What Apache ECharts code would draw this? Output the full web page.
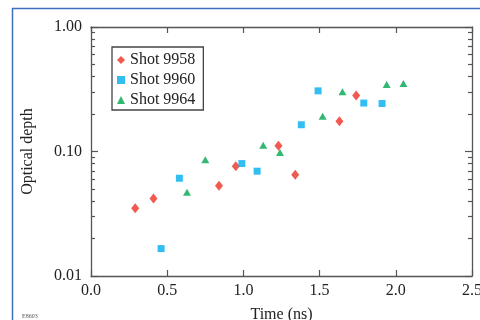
<!DOCTYPE html>
<html>
<head>
<meta charset="utf-8">
<script src="https://cdn.jsdelivr.net/npm/echarts@6/dist/echarts.min.js"></script>
<style>html,body{margin:0;padding:0;background:#fff;}#c{width:480px;height:320px;}</style>
</head>
<body>
<div id="c"></div>
<script>
// ---- data ----
var shot9958Time  = [0.29, 0.41, 0.84, 0.95, 1.23, 1.34, 1.63, 1.74];
var shot9958Depth = [0.035, 0.042, 0.053, 0.076, 0.111, 0.065, 0.175, 0.282];
var shot9960Time  = [0.46, 0.58, 0.99, 1.09, 1.38, 1.49, 1.79, 1.91];
var shot9960Depth = [0.0166, 0.061, 0.080, 0.0695, 0.164, 0.307, 0.245, 0.243];
var shot9964Time  = [0.63, 0.75, 1.13, 1.24, 1.52, 1.65, 1.94, 2.05];
var shot9964Depth = [0.047, 0.086, 0.112, 0.098, 0.192, 0.302, 0.345, 0.352];
var seriesNames = ['Shot 9958', 'Shot 9960', 'Shot 9964'];
var xTicks = [0, 0.5, 1.0, 1.5, 2.0, 2.5];
var yMajorTicks = [0.01, 0.1, 1];
var yMinorTicks = [0.02,0.03,0.04,0.05,0.06,0.07,0.08,0.09,0.2,0.3,0.4,0.5,0.6,0.7,0.8,0.9];

function pairs(xs, ys){ return xs.map(function(x,i){ return [x, ys[i]]; }); }

var FONT = '"Liberation Serif", "Times New Roman", serif';
var AX = '#555';
var TXT = '#222';

var chart = echarts.init(document.getElementById('c'), null, {renderer:'canvas'});

function yAxisDef(pos, ticks, len, showLine, showLabel){
  return {
    type:'log', logBase:10, min:0.01, max:1, position:pos,
    axisLine:{show:showLine, lineStyle:{color:AX, width:1.3}},
    axisTick:{show:true, inside:true, length:len, customValues:ticks, lineStyle:{color:AX, width:1.2}},
    axisLabel:{show:showLabel, customValues: showLabel ? yMajorTicks : undefined,
      formatter:function(v){ return Number(v).toFixed(2); },
      color:TXT, fontFamily:FONT, fontSize:16, margin:9},
    splitLine:{show:false}
  };
}

chart.setOption({
  animation:false,
  backgroundColor:'#fff',
  grid:{left:91, top:27, right:8, bottom:44, outerBoundsMode:'none'},
  graphic:[
    {type:'rect', shape:{x:12.5, y:8.5, width:600, height:400},
     style:{fill:'none', stroke:'#3d6fc1', lineWidth:1.5}, silent:true, z:0},
    {type:'text', left:22, top:313, style:{text:'E8603', fill:'#555', font:'6px ' + FONT}}
  ],
  legend:{
    orient:'vertical', left:112, top:47,
    data:[{name:seriesNames[0], icon:'diamond'},{name:seriesNames[1], icon:'rect'},{name:seriesNames[2], icon:'triangle'}],
    itemWidth:8, itemHeight:8, itemGap:4,
    padding:[5,8,2,5],
    borderColor:'#444', borderWidth:1.3, backgroundColor:'#fff',
    textStyle:{fontFamily:FONT, fontSize:16, color:TXT}
  },
  xAxis:[
    {type:'value', min:0, max:2.5, interval:0.5, position:'bottom',
     name:'Time (ns)', nameLocation:'middle', nameGap:31,
     nameTextStyle:{fontFamily:FONT, fontSize:16, color:TXT},
     axisLine:{lineStyle:{color:AX, width:1.3}},
     axisTick:{inside:true, length:6, lineStyle:{color:AX, width:1.2}},
     axisLabel:{formatter:function(v){return v.toFixed(1);}, color:TXT, fontFamily:FONT, fontSize:16, margin:7},
     splitLine:{show:false}},
    {type:'value', min:0, max:2.5, interval:0.5, position:'top',
     axisLine:{lineStyle:{color:AX, width:1.3}},
     axisTick:{inside:true, length:6, lineStyle:{color:AX, width:1.2}},
     axisLabel:{show:false}, splitLine:{show:false}}
  ],
  yAxis:[
    Object.assign(yAxisDef('left', yMajorTicks, 7, true, true), {
      name:'Optical depth', nameLocation:'middle', nameGap:55, nameRotate:90,
      nameTextStyle:{fontFamily:FONT, fontSize:16, color:TXT}}),
    yAxisDef('left', yMinorTicks, 4, false, false),
    yAxisDef('right', yMajorTicks, 7, true, false),
    yAxisDef('right', yMinorTicks, 4, false, false)
  ],
  series:[
    {name:seriesNames[0], type:'scatter', xAxisIndex:0, yAxisIndex:0, symbol:'diamond', symbolSize:[8,10],
     itemStyle:{color:'#ee3124'}, data:pairs(shot9958Time, shot9958Depth)},
    {name:seriesNames[1], type:'scatter', xAxisIndex:0, yAxisIndex:0, symbol:'rect', symbolSize:7,
     itemStyle:{color:'#00aeef'}, data:pairs(shot9960Time, shot9960Depth)},
    {name:seriesNames[2], type:'scatter', xAxisIndex:0, yAxisIndex:0, symbol:'triangle', symbolSize:[8,7],
     itemStyle:{color:'#00a651'}, data:pairs(shot9964Time, shot9964Depth)}
  ]
});
</script>
</body>
</html>
